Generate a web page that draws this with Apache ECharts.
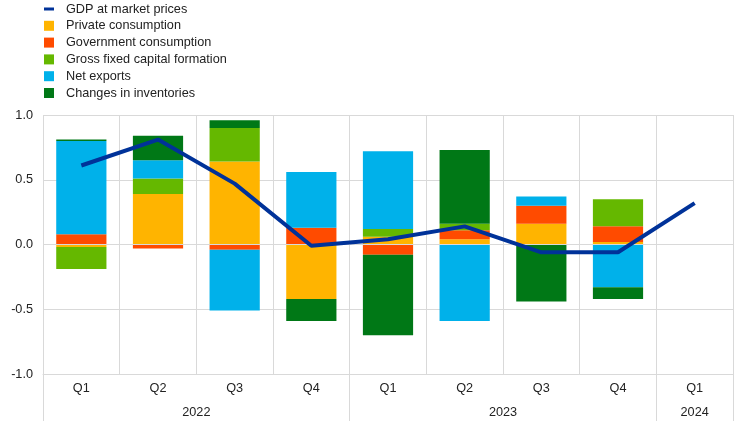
<!DOCTYPE html>
<html>
<head>
<meta charset="utf-8">
<script src="https://cdn.jsdelivr.net/npm/echarts@6/dist/echarts.min.js"></script>
<style>
  html, body { margin: 0; padding: 0; background: #fff; }
  #chart { width: 742px; height: 421px; }
</style>
</head>
<body>
<div id="chart"></div>
<script>
const categories = ['Q1', 'Q2', 'Q3', 'Q4', 'Q1', 'Q2', 'Q3', 'Q4', 'Q1'];
const years = ['2022', '2023', '2024'];
const yearPositions = [2, 6, 8.5];
const yearStartIndexes = [0, 4, 8];

const privateConsumption = [-0.02, 0.39, 0.64, -0.42, 0.06, 0.04, 0.16, 0.02, null];
const governmentConsumption = [0.08, -0.03, -0.04, 0.13, -0.08, 0.07, 0.14, 0.12, null];
const grossFixedCapital = [-0.17, 0.12, 0.26, 0, 0.06, 0.05, 0, 0.21, null];
const netExports = [0.72, 0.14, -0.47, 0.43, 0.60, -0.59, 0.07, -0.33, null];
const inventories = [0.01, 0.19, 0.06, -0.17, -0.62, 0.57, -0.44, -0.09, null];
const gdp = [0.61, 0.81, 0.47, -0.01, 0.04, 0.14, -0.06, -0.06, 0.32];

const FONT = '"Liberation Sans", Arial, sans-serif';
const GRID = '#d9d9d9';
const TXT = '#222';

const chart = echarts.init(document.getElementById('chart'), null, { renderer: 'canvas' });

function bar(name, data, color, extra) {
  return Object.assign({
    name: name,
    type: 'bar',
    stack: 'total',
    data: data,
    barCategoryGap: '34.5%',
    itemStyle: { color: color },
    emphasis: { disabled: true }
  }, extra || {});
}

const option = {
  animation: false,
  backgroundColor: '#fff',
  textStyle: { fontFamily: FONT },
  grid: { left: 43, right: 9, top: 115, bottom: 47, containLabel: false },
  legend: {
    orient: 'vertical',
    left: 44,
    top: 2,
    padding: 0,
    itemWidth: 10,
    itemHeight: 10,
    itemGap: 2.8,
    selectedMode: false,
    textStyle: { fontFamily: FONT, fontSize: 12.7, color: TXT, lineHeight: 14, padding: [0, 0, 0, 7] },
    data: [
      { name: 'GDP at market prices', icon: 'path://M0,0H10V3H0Z' },
      { name: 'Private consumption', icon: 'rect' },
      { name: 'Government consumption', icon: 'rect' },
      { name: 'Gross fixed capital formation', icon: 'rect' },
      { name: 'Net exports', icon: 'rect' },
      { name: 'Changes in inventories', icon: 'rect' }
    ]
  },
  xAxis: [
    {
      type: 'category',
      data: categories,
      position: 'bottom',
      axisLine: { show: true, onZero: false, lineStyle: { color: GRID, width: 1 } },
      axisTick: { show: false },
      axisLabel: { fontFamily: FONT, fontSize: 12.7, color: TXT, margin: 8 },
      splitLine: { show: true, lineStyle: { color: GRID, width: 1 } }
    },
    {
      type: 'value',
      min: 0,
      max: 9,
      position: 'bottom',
      axisLine: { show: false },
      splitLine: { show: false },
      axisTick: { show: false },
      axisLabel: {
        show: true,
        customValues: yearPositions,
        margin: 32,
        fontFamily: FONT,
        fontSize: 12.7,
        color: TXT,
        formatter: function (v) {
          const i = yearPositions.indexOf(v);
          return i >= 0 ? years[i] : '';
        }
      }
    },
    {
      type: 'category',
      data: categories,
      position: 'bottom',
      axisLine: { show: false },
      splitLine: { show: false },
      axisLabel: { show: false },
      axisTick: {
        show: true,
        length: 47,
        interval: function (index) { return yearStartIndexes.indexOf(index) >= 0; },
        lineStyle: { color: GRID, width: 1 }
      }
    }
  ],
  yAxis: {
    type: 'value',
    min: -1,
    max: 1,
    interval: 0.5,
    axisLine: { show: false },
    axisTick: { show: false },
    axisLabel: {
      fontFamily: FONT, fontSize: 12.7, color: TXT, margin: 10,
      formatter: function (v) { return v.toFixed(1); }
    },
    splitLine: { show: true, lineStyle: { color: GRID, width: 1 } }
  },
  series: [
    bar('Private consumption', privateConsumption, '#ffb400'),
    bar('Government consumption', governmentConsumption, '#ff4b00'),
    bar('Gross fixed capital formation', grossFixedCapital, '#65b800'),
    bar('Net exports', netExports, '#00b1ea'),
    bar('Changes in inventories', inventories, '#007816', {
      markLine: {
        silent: true,
        symbol: ['none', 'none'],
        label: { show: false },
        lineStyle: { color: GRID, width: 1, type: 'solid' },
        emphasis: { disabled: true },
        z: 3,
        data: [{ yAxis: 0 }]
      }
    }),
    {
      name: 'GDP at market prices',
      type: 'line',
      data: gdp,
      symbol: 'none',
      z: 5,
      lineStyle: { color: '#003299', width: 4 },
      itemStyle: { color: '#003299' },
      emphasis: { disabled: true }
    }
  ]
};

chart.setOption(option);
</script>
</body>
</html>
